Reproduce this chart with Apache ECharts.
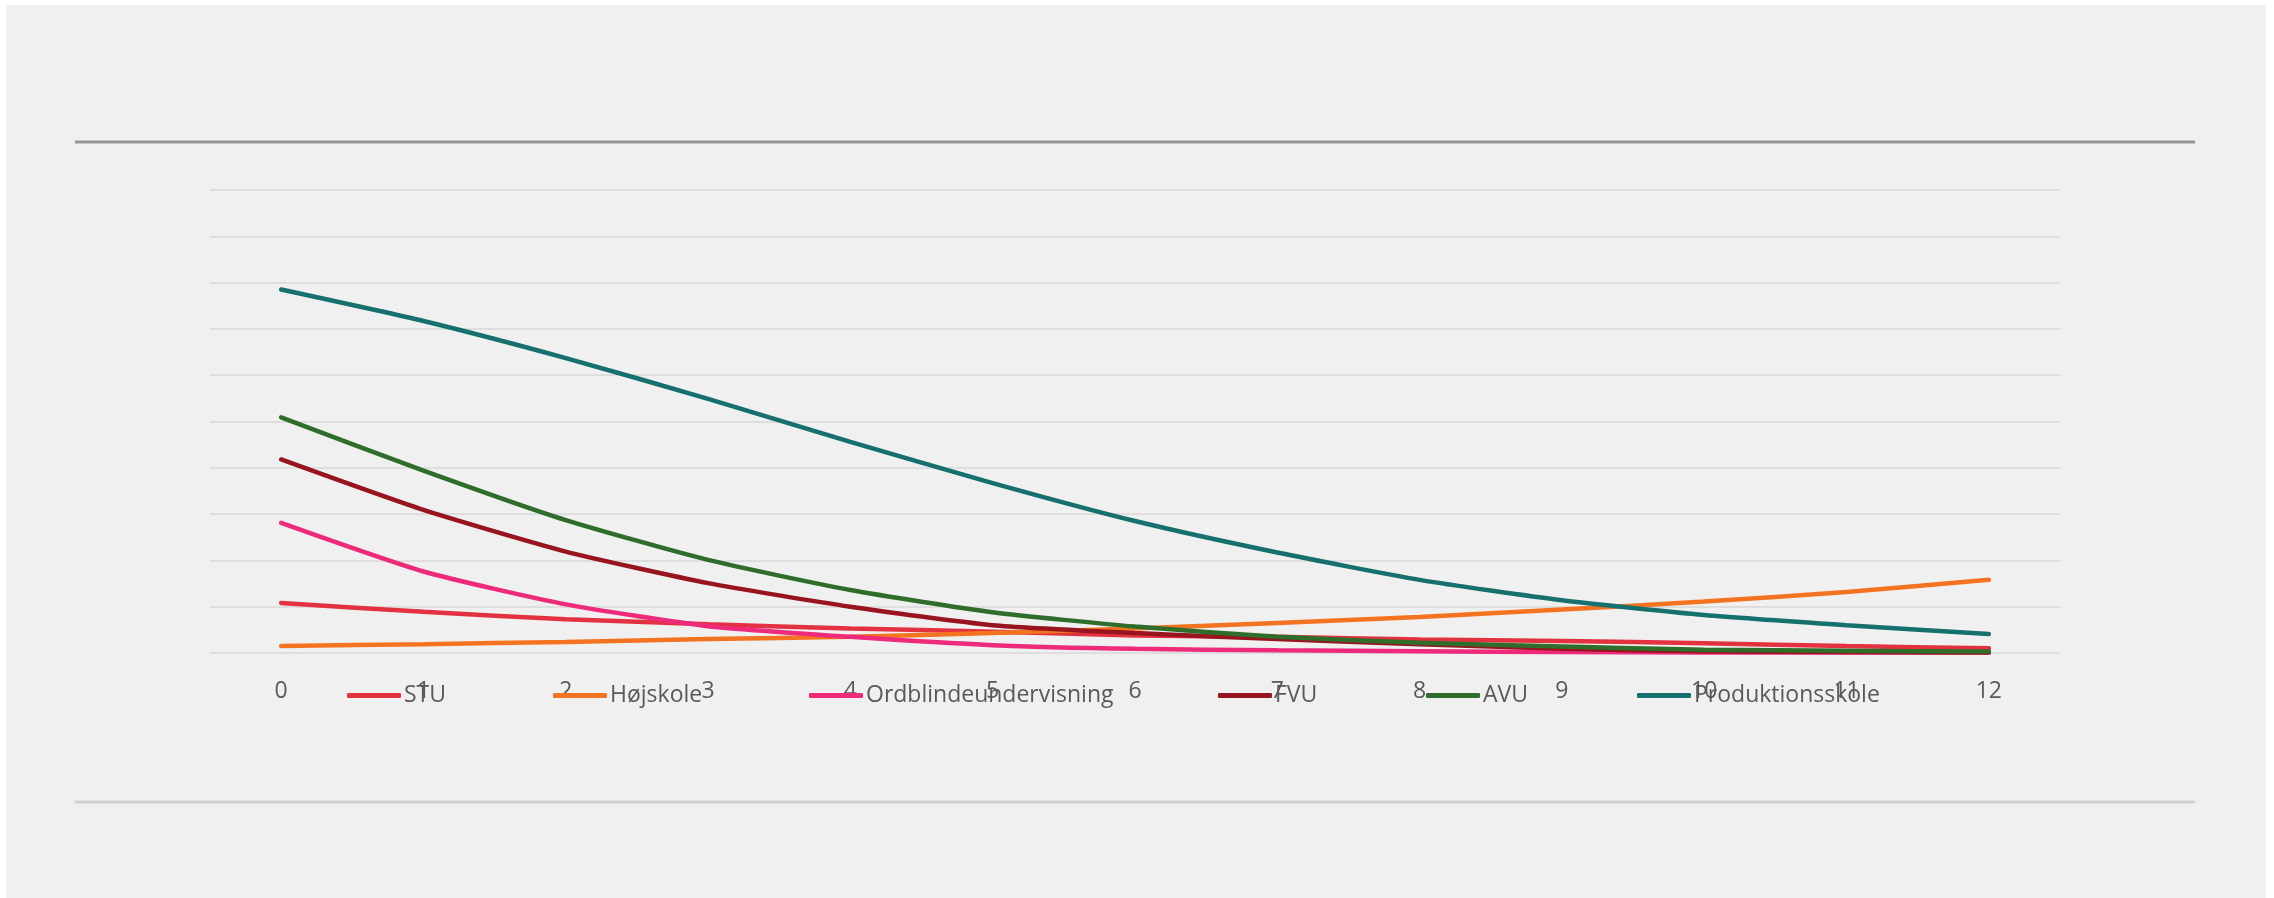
<!DOCTYPE html>
<html>
<head>
<meta charset="utf-8">
<script src="https://cdn.jsdelivr.net/npm/echarts@6/dist/echarts.min.js"></script>
<style>
  html, body { margin: 0; padding: 0; background: #ffffff; }
  #chart { width: 2274px; height: 898px; }
</style>
</head>
<body>
<div id="chart"></div>
<script>
// x categories (years)
const categories = ['0', '1', '2', '3', '4', '5', '6', '7', '8', '9', '10', '11', '12'];

const seriesNames = ['STU', 'Højskole', 'Ordblindeundervisning', 'FVU', 'AVU', 'Produktionsskole'];

// values in gridline units (y axis has no labels)
const stu = [1.08, 0.89, 0.73, 0.62, 0.53, 0.46, 0.38, 0.35, 0.29, 0.26, 0.21, 0.15, 0.10];
const hojskole = [0.15, 0.19, 0.24, 0.30, 0.35, 0.43, 0.53, 0.65, 0.78, 0.94, 1.11, 1.32, 1.58];
const ordblinde = [2.81, 1.76, 1.05, 0.58, 0.35, 0.17, 0.09, 0.06, 0.04, 0.02, 0.01, 0.01, 0.01];
const fvu = [4.18, 3.09, 2.19, 1.51, 1.00, 0.60, 0.43, 0.30, 0.19, 0.09, 0.04, 0.02, 0.01];
const avu = [5.09, 3.94, 2.87, 2.01, 1.36, 0.88, 0.57, 0.35, 0.22, 0.14, 0.07, 0.05, 0.03];
const produktion = [7.85, 7.17, 6.37, 5.49, 4.56, 3.67, 2.85, 2.17, 1.58, 1.14, 0.82, 0.60, 0.41];

const seriesValues = [stu, hojskole, ordblinde, fvu, avu, produktion];
const colors = ['#e3323f', '#f47321', '#ee2a7b', '#98141e', '#2e6e2a', '#16706e'];

const legendLeft = [342, 548, 804, 1213, 1421, 1632];
const fontFamily = '"Open Sans", "Noto Sans", sans-serif';

const chart = echarts.init(document.getElementById('chart'), null, { renderer: 'canvas' });

const option = {
  animation: false,
  backgroundColor: '#ffffff',
  color: colors,
  graphic: [
    { type: 'rect', z: -10, shape: { x: 6, y: 5, width: 2260, height: 893 }, style: { fill: '#f0f0f0' } },
    { type: 'line', shape: { x1: 75, y1: 142, x2: 2195, y2: 142 }, style: { stroke: '#939598', lineWidth: 3 } },
    { type: 'line', shape: { x1: 75, y1: 802, x2: 2195, y2: 802 }, style: { stroke: '#d0d0d0', lineWidth: 3 } },
  ],
  grid: { left: 210, right: 214, top: 190, bottom: 245 },
  xAxis: {
    type: 'category',
    data: categories,
    boundaryGap: true,
    axisLine: { show: false },
    axisTick: { show: false },
    axisLabel: { color: '#595959', fontSize: 23, fontFamily, margin: 27 },
  },
  yAxis: {
    type: 'value',
    min: 0,
    max: 10,
    interval: 1,
    axisLabel: { show: false },
    axisLine: { show: false },
    axisTick: { show: false },
    splitLine: { lineStyle: { color: '#d9d9d9', width: 1.5 } },
  },
  legend: seriesNames.map((name, i) => ({
    data: [name],
    left: legendLeft[i],
    top: 679,
    icon: 'roundRect',
    itemWidth: 54,
    itemHeight: 5,
    itemGap: 0,
    textStyle: { color: '#595959', fontSize: 23, fontFamily, padding: [0, 0, 0, -2] },
  })),
  series: seriesNames.map((name, i) => ({
    name,
    type: 'line',
    data: seriesValues[i],
    smooth: 0.2,
    symbol: 'none',
    lineStyle: { width: 4.5, color: colors[i], cap: 'round' },
    itemStyle: { color: colors[i] },
  })),
};

chart.setOption(option);
</script>
</body>
</html>
